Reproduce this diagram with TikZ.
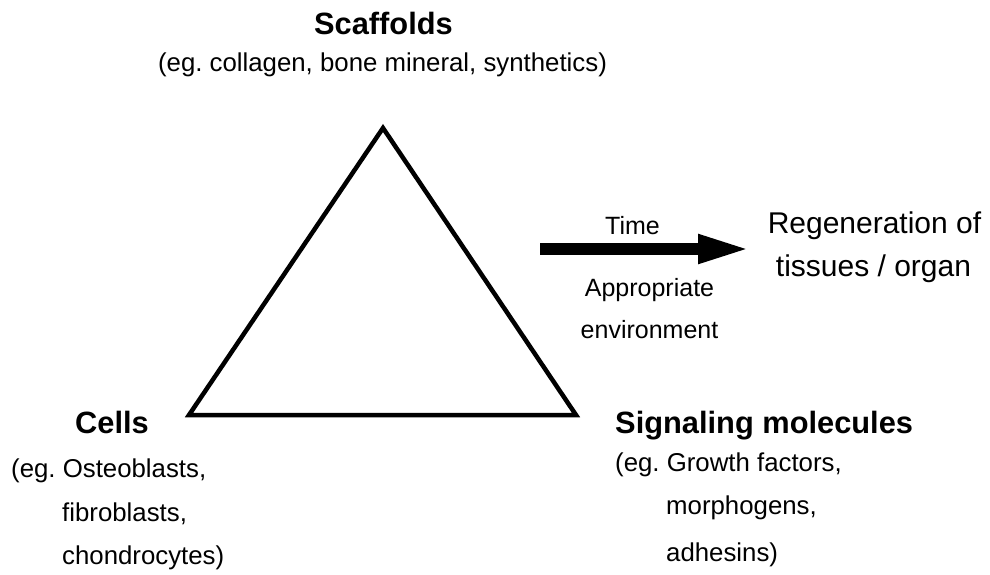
\documentclass[tikz,border=0pt]{standalone}
\usepackage{fontspec}
\setmainfont{Liberation Sans}
\usetikzlibrary{arrows.meta}
\frenchspacing
\tikzset{
  title/.style={inner sep=0pt, anchor=base, font=\fontsize{30.8}{34}\selectfont\bfseries},
  body/.style={inner sep=0pt, anchor=base, font=\fontsize{25.8}{30}\selectfont},
  bodyw/.style={inner sep=0pt, anchor=base west, font=\fontsize{25.8}{30}\selectfont},
  bodysm/.style={inner sep=0pt, anchor=base, font=\fontsize{25}{30}\selectfont},
  big/.style={inner sep=0pt, anchor=base, font=\fontsize{30}{34}\selectfont},
  tri/.style={line width=4.5pt, line join=miter},
  bigarrow/.style={line width=12.5pt, -{Triangle[length=54pt,width=26pt]}}
}
\begin{document}
\begin{tikzpicture}[x=1pt,y=-1pt]
\useasboundingbox (0,0) rectangle (990,574);
% triangle corners
\coordinate (apex) at (383,128);
\coordinate (bl) at (189,415);
\coordinate (br) at (576,415);
\draw[tri] (apex) -- (bl) -- (br) -- cycle;
% top label
\node[title] (scaf) at (383.5,34) {Scaffolds};
\node[body] (scafeg) at (382.5,71) {(eg. collagen, bone mineral, synthetics)};
% cells
\node[title, anchor=base west] (cells) at (75,433) {Cells};
\node[bodyw] (cells1) at (11,477) {(eg. Osteoblasts,};
\node[bodyw] (cells2) at (62,521) {fibroblasts,};
\node[bodyw] (cells3) at (62,564) {chondrocytes)};
% signaling
\node[title, anchor=base west] (sig) at (615,433) {Signaling molecules};
\node[bodyw] (sig1) at (615,471) {(eg. Growth factors,};
\node[bodyw] (sig2) at (666,514) {morphogens,};
\node[bodyw] (sig3) at (666,561) {adhesins)};
% arrow
\coordinate (arrs) at (540,249);
\coordinate (arre) at (752,249);
\draw[bigarrow] (arrs) -- (arre);
\node[bodysm] (time) at (632.5,234) {Time};
\node[bodysm] (appr) at (649.5,296) {Appropriate};
\node[bodysm] (env) at (649.5,338) {environment};
% result
\node[big] (regen) at (874.5,233) {Regeneration of};
\node[big] (tiss) at (873.5,276) {tissues / organ};
\end{tikzpicture}
\end{document}
